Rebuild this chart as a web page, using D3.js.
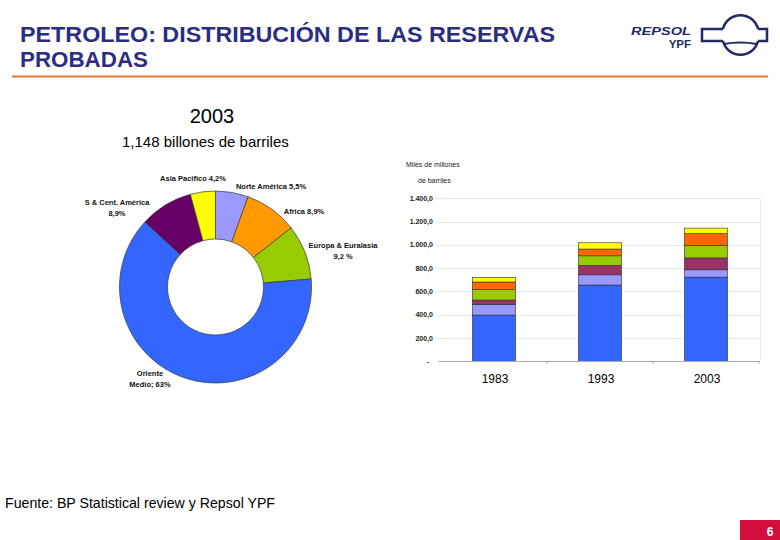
<!DOCTYPE html>
<html><head><meta charset="utf-8">
<script src="https://cdn.jsdelivr.net/npm/d3@7"></script>
<style>
html,body{margin:0;padding:0;background:#fff;}
svg{display:block;font-family:"Liberation Sans",Arial,sans-serif;}
</style></head>
<body><svg id="c" width="780" height="540"></svg>
<script>
// ---- data ----
const years = ["1983", "1993", "2003"];
const regions = ["Oriente Medio", "Norte América", "S & Cent. América", "Europa & Euralasia", "Africa", "Asia Pacífico"];
const orienteMedio = [397, 655, 723];
const norteAmerica = [92, 88, 63];
const sCentAmerica = [37, 81, 102];
const europaEuralasia = [89, 82, 106];
const africa = [66, 58, 102];
const asiaPacifico = [40, 54, 48];
const yTicks = [0, 200, 400, 600, 800, 1000, 1200, 1400];

// pie (2003 shares, clockwise from top)
const pieRegions = ["Norte América", "Africa", "Europa & Euralasia", "Oriente Medio", "S & Cent. América", "Asia Pacífico"];
const pieShares = [5.5, 8.9, 9.2, 63, 8.9, 4.2];
const pieLabels = [["Norte América 5,5%"], ["Africa 8,9%"], ["Europa & Euralasia", "9,2 %"], ["Oriente", "Medio; 63%"], ["S & Cent. América", "8,9%"], ["Asia Pacifico 4,2%"]];

// ---- styles ----
const barColors = {"Oriente Medio":"#3366FF","Norte América":"#9999FF","S & Cent. América":"#993366","Europa & Euralasia":"#99CC00","Africa":"#FF6600","Asia Pacífico":"#FFFF00"};
const pieColors = {"Oriente Medio":"#3366FF","Norte América":"#9999FF","S & Cent. América":"#660066","Europa & Euralasia":"#99CC00","Africa":"#FF9900","Asia Pacífico":"#FFFF00"};
const labelPos = [ // [x, y, anchor] for pie labels
  [271, 189, "middle"], [304, 214, "middle"], [343, 248, "middle"],
  [150, 376, "middle"], [117, 205, "middle"], [193, 181, "middle"]
];

const svg = d3.select("#c");
const navy = "#2b2d83";

// ---- header ----
svg.append("text").attr("x", 20).attr("y", 42)
  .attr("font-family", "'Liberation Sans Narrow','Liberation Sans',Arial,sans-serif")
  .attr("font-weight", "bold").attr("font-size", 21.5).attr("fill", navy)
  .attr("textLength", 535).attr("lengthAdjust", "spacingAndGlyphs")
  .text("PETROLEO: DISTRIBUCIÓN DE LAS RESERVAS");
svg.append("text").attr("x", 20).attr("y", 67)
  .attr("font-family", "'Liberation Sans Narrow','Liberation Sans',Arial,sans-serif")
  .attr("font-weight", "bold").attr("font-size", 21.5).attr("fill", navy)
  .attr("textLength", 128).attr("lengthAdjust", "spacingAndGlyphs")
  .text("PROBADAS");
svg.append("line").attr("x1", 12).attr("x2", 768).attr("y1", 76.5).attr("y2", 76.5)
  .attr("stroke", "#e0773f").attr("stroke-width", 2);

// logo
const logoC = "#1f2a66";
svg.append("text").attr("x", 691).attr("y", 35).attr("text-anchor", "end")
  .attr("font-weight", "bold").attr("font-style", "italic").attr("font-size", 11.5)
  .attr("fill", logoC).attr("textLength", 60).attr("lengthAdjust", "spacingAndGlyphs").text("REPSOL");
svg.append("text").attr("x", 691).attr("y", 48).attr("text-anchor", "end")
  .attr("font-weight", "bold").attr("font-size", 11.5)
  .attr("fill", logoC).text("YPF");
const lg = svg.append("g").attr("fill", "none").attr("stroke", logoC).attr("stroke-width", 2.5);
lg.append("path").attr("d", "M723,29 A18,18 0 0 1 758,29");
lg.append("path").attr("d", "M723,41 A18,18 0 0 0 758,41");
lg.append("path").attr("d", "M723,29 L702,29 L702,41 L723,41");
lg.append("path").attr("d", "M758,29 L767,29 L767,41 L758,41");
lg.append("path").attr("d", "M724,44 Q740,41 757,44").attr("stroke-width", 1.8);

// ---- pie title ----
svg.append("text").attr("x", 212).attr("y", 123).attr("text-anchor", "middle")
  .attr("font-size", 20).attr("fill", "#000").text("2003");
svg.append("text").attr("x", 122).attr("y", 147)
  .attr("font-size", 15).attr("fill", "#000").text("1,148 billones de barriles");

// ---- donut ----
const cx = 215.5, cy = 287;
const pie = d3.pie().sort(null).value(d => d)(pieShares);
const arc = d3.arc().innerRadius(48).outerRadius(96);
const pg = svg.append("g").attr("transform", `translate(${cx},${cy})`);
pg.selectAll("path").data(pie).join("path")
  .attr("d", arc)
  .attr("fill", (d, i) => pieColors[pieRegions[i]])
  .attr("stroke", "#3a3a3a").attr("stroke-width", 0.7);

const lblG = svg.append("g").attr("font-size", 7.5).attr("font-weight", "bold").attr("fill", "#111");
pieLabels.forEach((lines, i) => {
  const [x, y, a] = labelPos[i];
  const t = lblG.append("text").attr("x", x).attr("y", y).attr("text-anchor", a);
  lines.forEach((l, j) => t.append("tspan").attr("x", x).attr("dy", j === 0 ? 0 : 11).text(l));
});

// ---- stacked bars ----
const series = [orienteMedio, norteAmerica, sCentAmerica, europaEuralasia, africa, asiaPacifico];
const rows = years.map((y, i) => {
  const o = {year: y};
  regions.forEach((r, k) => o[r] = series[k][i]);
  return o;
});
const stack = d3.stack().keys(regions)(rows);
const x = d3.scaleBand().domain(years).range([441, 759]).paddingInner(0.594).paddingOuter(0.297);
const y = d3.scaleLinear().domain([0, 1400]).range([361.3, 198.3]);

const fmt = v => v === 0 ? "-" : d3.format(",.1f")(v).replace(/,/g, "#").replace(".", ",").replace(/#/g, ".");
const grid = svg.append("g");
grid.selectAll("line").data(yTicks.filter(t => t > 0)).join("line")
  .attr("x1", 436).attr("x2", 760).attr("y1", d => Math.round(y(d)) + 0.5).attr("y2", d => Math.round(y(d)) + 0.5)
  .attr("stroke", "#e8e8e8").attr("stroke-width", 1);
svg.append("line").attr("x1", 760.5).attr("x2", 760.5).attr("y1", y(1400)).attr("y2", y(0))
  .attr("stroke", "#ececec");
svg.append("g").selectAll("text").data(yTicks).join("text")
  .attr("x", d => d === 0 ? 429 : 433).attr("y", d => y(d) + 2.5).attr("text-anchor", "end")
  .attr("font-size", 7).attr("font-weight", "bold").attr("fill", "#222")
  .text(fmt);

const bg = svg.append("g");
stack.forEach(s => {
  bg.selectAll(null).data(s).join("rect")
    .attr("x", d => x(d.data.year))
    .attr("width", x.bandwidth())
    .attr("y", d => y(d[1]))
    .attr("height", d => y(d[0]) - y(d[1]))
    .attr("fill", barColors[s.key])
    .attr("stroke", "#2a2a40").attr("stroke-width", 0.6);
});

// axis baseline + category ticks
svg.append("line").attr("x1", 438).attr("x2", 760).attr("y1", 361.5).attr("y2", 361.5).attr("stroke", "#aaa");
const bounds = years.map(yy => x(yy) + x.bandwidth() / 2 + x.step() / 2);
svg.append("g").selectAll("line").data(bounds).join("line")
  .attr("x1", d => d).attr("x2", d => d).attr("y1", 361).attr("y2", 364).attr("stroke", "#aaa");
svg.append("g").selectAll("text").data(years).join("text")
  .attr("x", d => x(d) + x.bandwidth() / 2 + 1).attr("y", 383).attr("text-anchor", "middle")
  .attr("font-size", 12).attr("fill", "#000").text(d => d);

// unit label
svg.append("text").attr("x", 406).attr("y", 167).attr("font-size", 7).attr("fill", "#222").text("Miles de millones");
svg.append("text").attr("x", 418).attr("y", 183).attr("font-size", 7).attr("fill", "#222").text("de barriles");

// ---- footer ----
svg.append("text").attr("x", 5).attr("y", 508)
  .attr("font-family", "'Liberation Sans Narrow','Liberation Sans',Arial,sans-serif")
  .attr("font-size", 14.5).attr("fill", "#000").attr("textLength", 270).attr("lengthAdjust", "spacingAndGlyphs")
  .text("Fuente: BP Statistical review y Repsol YPF");
svg.append("rect").attr("x", 740).attr("y", 520).attr("width", 40).attr("height", 20).attr("fill", "#d20f3c");
svg.append("text").attr("x", 770).attr("y", 536).attr("text-anchor", "middle")
  .attr("font-size", 12).attr("font-weight", "bold").attr("fill", "#fff").text("6");
</script></body></html>
